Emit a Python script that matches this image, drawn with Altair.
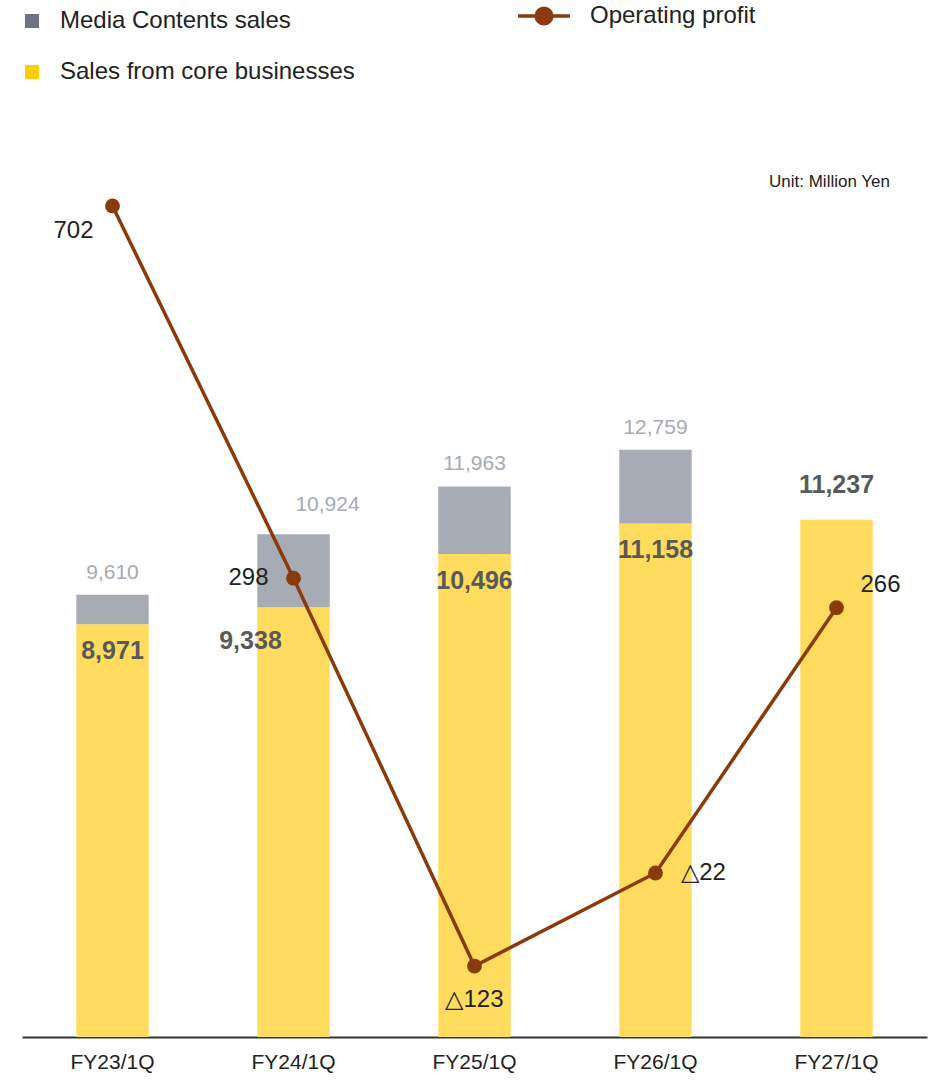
import altair as alt
import pandas as pd

periods = ["FY23/1Q", "FY24/1Q", "FY25/1Q", "FY26/1Q", "FY27/1Q"]
core_sales = [8971, 9338, 10496, 11158, 11237]
total_sales = [9610, 10924, 11963, 12759, 11237]
operating_profit = [702, 298, -123, -22, 266]
series_names = ["Media Contents sales", "Sales from core businesses"]
profit_name = "Operating profit"

FONT = "Liberation Sans"
BAR_YELLOW = "#FFDB5E"
BAR_GRAY = "#A6ABB4"
LEG_GRAY = "#6B7583"
LEG_YELLOW = "#FFCC00"
BROWN = "#8B3A0B"

rows = []
for p, c, t in zip(periods, core_sales, total_sales):
    rows.append({"period": p, "series": series_names[1], "value": c, "order": 0})
    rows.append({"period": p, "series": series_names[0], "value": t - c, "order": 1})
bars_df = pd.DataFrame(rows)

summary_df = pd.DataFrame({
    "period": periods,
    "core": core_sales,
    "total": total_sales,
    "media": [t - c for t, c in zip(total_sales, core_sales)],
    "profit": operating_profit,
    "series": [profit_name] * len(periods),
})
summary_df["core_label"] = [f"{v:,}" for v in core_sales]
summary_df["total_label"] = [f"{v:,}" for v in total_sales]
summary_df["profit_label"] = [f"{v:,}" if v >= 0 else f"△{abs(v):,}" for v in operating_profit]

x_enc = alt.X("period:N", sort=periods,
              scale=alt.Scale(paddingInner=0.6, paddingOuter=0.3),
              axis=alt.Axis(title=None, labelAngle=0, ticks=False, domain=True,
                            domainColor="#333333", domainWidth=2,
                            labelFont=FONT, labelFontSize=21, labelColor="#222222",
                            labelPadding=14, grid=False))

y_bar = alt.Scale(domain=[0, 20360], nice=False, zero=False)
y_line = alt.Scale(domain=[-200, 817], nice=False, zero=False)

# fill scale uses a data-driven domain (alphabetical: gray first, yellow second)
bars = alt.Chart(bars_df).mark_bar().encode(
    x=x_enc,
    y=alt.Y("value:Q", stack="zero", scale=y_bar, axis=None),
    fill=alt.Fill("series:N", scale=alt.Scale(range=[BAR_GRAY, BAR_YELLOW]), legend=None),
    order=alt.Order("order:Q"),
)

legend_layer = alt.Chart(bars_df).mark_square(size=0, opacity=1, filled=True).encode(
    x=alt.X("period:N", sort=periods),
    y=alt.Y("value:Q", scale=y_bar, axis=None),
    color=alt.Color("series:N",
                    scale=alt.Scale(domain=series_names, range=[LEG_GRAY, LEG_YELLOW]),
                    legend=alt.Legend(title=None, orient="none", legendX=-2, legendY=-91,
                                      symbolType="square", symbolSize=196, symbolOpacity=1,
                                      symbolStrokeWidth=0,
                                      labelFont=FONT, labelFontSize=24, labelColor="#222222",
                                      labelOffset=16, rowPadding=27, labelLimit=400)),
)

base_s = alt.Chart(summary_df)

total_offsets = {
    "FY23/1Q": (0, -22),
    "FY24/1Q": (34, -29),
    "FY25/1Q": (0, -22),
    "FY26/1Q": (0, -22),
}
total_layers = []
for p, (dx, dy) in total_offsets.items():
    total_layers.append(
        base_s.transform_filter(alt.datum.period == p).mark_text(
            font=FONT, fontSize=21, color=BAR_GRAY, baseline="middle", dx=dx, dy=dy
        ).encode(x=alt.X("period:N", sort=periods),
                 y=alt.Y("total:Q", scale=y_bar, axis=None),
                 text="total_label:N")
    )

core_offsets = {
    "FY23/1Q": (0, 27),
    "FY24/1Q": (-43, 34),
    "FY25/1Q": (0, 27),
    "FY26/1Q": (0, 27),
    "FY27/1Q": (0, -35),
}
core_layers = []
for p, (dx, dy) in core_offsets.items():
    core_layers.append(
        base_s.transform_filter(alt.datum.period == p).mark_text(
            font=FONT, fontSize=25, fontWeight="bold", color="#595959",
            baseline="middle", dx=dx, dy=dy
        ).encode(x=alt.X("period:N", sort=periods),
                 y=alt.Y("core:Q", scale=y_bar, axis=None),
                 text="core_label:N")
    )

line = base_s.mark_line(strokeWidth=3.5).encode(
    x=alt.X("period:N", sort=periods),
    y=alt.Y("profit:Q", scale=y_line, axis=None),
    stroke=alt.Stroke("series:N", scale=alt.Scale(domain=[profit_name], range=[BROWN]),
                      legend=alt.Legend(title=None, orient="none", legendX=494, legendY=-112,
                                        symbolType="M-1,0L1,0M-0.3,0A0.3,0.3 0 1,1 0.3,0A0.3,0.3 0 1,1 -0.3,0Z",
                                        symbolSize=2704, symbolStrokeWidth=3.5,
                                        symbolFillColor=BROWN, symbolStrokeColor=BROWN,
                                        labelFont=FONT, labelFontSize=24, labelColor="#222222",
                                        labelOffset=18, labelLimit=400)),
)
points = base_s.mark_circle(size=220, opacity=1, color=BROWN).encode(
    x=alt.X("period:N", sort=periods),
    y=alt.Y("profit:Q", scale=y_line, axis=None),
)

profit_offsets = {
    "FY23/1Q": (-39, 25),
    "FY24/1Q": (-45, 0),
    "FY25/1Q": (0, 34),
    "FY26/1Q": (48, 0),
    "FY27/1Q": (44, -23),
}
profit_layers = []
for p, (dx, dy) in profit_offsets.items():
    profit_layers.append(
        base_s.transform_filter(alt.datum.period == p).mark_text(
            font=FONT, fontSize=24, color="#222222", baseline="middle", dx=dx, dy=dy
        ).encode(x=alt.X("period:N", sort=periods),
                 y=alt.Y("profit:Q", scale=y_line, axis=None),
                 text="profit_label:N")
    )

unit = alt.Chart(pd.DataFrame({"t": ["Unit: Million Yen"]})).mark_text(
    font=FONT, fontSize=17, color="#222222", align="right", baseline="middle"
).encode(x=alt.value(868), y=alt.value(82), text="t:N")

bar_group = alt.layer(bars, legend_layer, *total_layers, *core_layers)
line_group = alt.layer(line, points, *profit_layers)

chart = alt.layer(bar_group, line_group, unit).resolve_scale(
    y="independent"
).properties(
    width=905, height=937,
    autosize=alt.AutoSizeParams(type="none"),
    padding={"left": 22, "top": 100, "right": 9, "bottom": 44},
).configure_view(stroke=None)

chart.save("out.html", embed_options={"renderer": "svg", "actions": False})
